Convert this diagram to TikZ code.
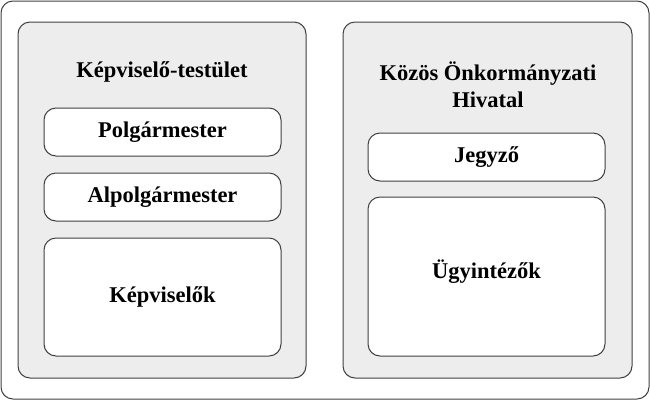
\documentclass[tikz,border=0pt]{standalone}
\usepackage{fontspec}
\setmainfont{Liberation Serif}
\begin{document}
\begin{tikzpicture}[x=1pt,y=-1pt,
  panel/.style={draw=black!75,line width=1pt,fill=black!7,rounded corners=12pt},
  ibox/.style={draw=black!75,line width=1pt,fill=white,rounded corners=12pt},
  lbl/.style={font=\fontsize{22.5}{27}\selectfont\bfseries,align=center}]
\useasboundingbox (0,0) rectangle (650,400);
\draw[draw=black!75,line width=1pt,rounded corners=12pt] (1,1) rectangle (649,399);
\draw[panel] (18,22) rectangle (306,378);
\draw[panel] (343,22) rectangle (632,378);
\node[lbl] (t1) at (162,72) {Képviselő-testület};
\draw[ibox] (44,108) rectangle (281,156); \node[lbl] (p) at (162.5,132) {Polgármester};
\draw[ibox] (44,173) rectangle (281,221); \node[lbl] (a) at (162.5,197) {Alpolgármester};
\draw[ibox] (44,238) rectangle (281,356); \node[lbl] (k) at (162.5,297) {Képviselők};
\node[lbl] (t2) at (488,85) {Közös Önkormányzati\\Hivatal};
\draw[ibox] (368,133) rectangle (605,181); \node[lbl] (j) at (486.5,157) {Jegyző};
\draw[ibox] (368,197) rectangle (605,356); \node[lbl] (u) at (486.5,272) {Ügyintézők};
\end{tikzpicture}
\end{document}
